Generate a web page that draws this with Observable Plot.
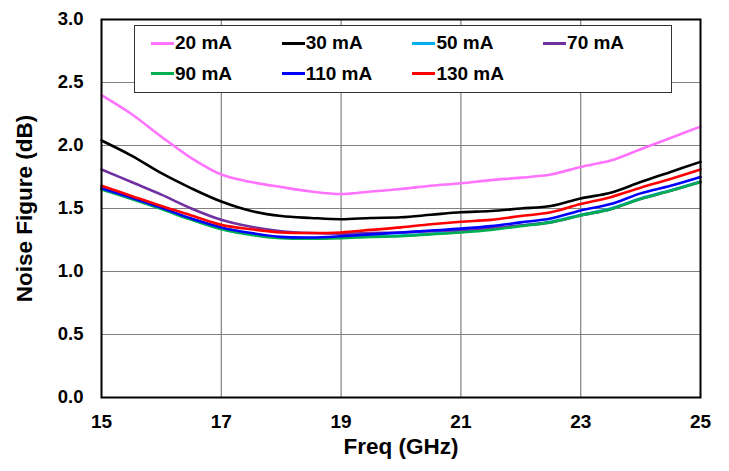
<!DOCTYPE html>
<html>
<head>
<meta charset="utf-8">
<script src="https://cdn.jsdelivr.net/npm/d3@7"></script>
<script src="https://cdn.jsdelivr.net/npm/@observablehq/plot@0.6"></script>
<style>
  body { margin: 0; background: #fff; }
  #wrap { position: relative; width: 729px; height: 471px; font-family: "Liberation Sans", Arial, sans-serif; }
  #legend {
    position: absolute; left: 134px; top: 25px; width: 520px; height: 64px;
    border: 1px solid #333; background: #fff; box-sizing: content-box;
    display: grid; grid-template-columns: repeat(4, 130.7px); grid-auto-rows: 30.5px;
    padding-top: 2px; padding-left: 16px;
    font-weight: bold; font-size: 19px; color: #000;
  }
  .item { display: flex; align-items: center; white-space: nowrap; }
  .sw { display: inline-block; width: 23px; height: 3px; margin-right: 1px; }
</style>
</head>
<body>
<div id="wrap"></div>
<script>
const freq = [15, 15.5, 16, 16.5, 17, 17.5, 18, 18.5, 19, 19.5, 20, 20.5, 21, 21.5, 22, 22.5, 23, 23.5, 24, 24.5, 25];

const nf20  = [2.40, 2.25, 2.07, 1.90, 1.77, 1.71, 1.67, 1.635, 1.615, 1.635, 1.655, 1.68, 1.70, 1.725, 1.745, 1.77, 1.83, 1.88, 1.97, 2.06, 2.15];
const nf30  = [2.04, 1.92, 1.78, 1.66, 1.555, 1.48, 1.44, 1.425, 1.415, 1.425, 1.43, 1.45, 1.47, 1.48, 1.50, 1.52, 1.58, 1.625, 1.71, 1.79, 1.87];
const nf50  = [1.655, 1.58, 1.50, 1.415, 1.34, 1.295, 1.27, 1.265, 1.27, 1.28, 1.285, 1.30, 1.315, 1.335, 1.365, 1.395, 1.45, 1.50, 1.58, 1.645, 1.715];
const nf70  = [1.81, 1.71, 1.61, 1.50, 1.41, 1.355, 1.32, 1.305, 1.30, 1.305, 1.31, 1.32, 1.33, 1.345, 1.365, 1.39, 1.445, 1.495, 1.575, 1.64, 1.71];
const nf90  = [1.65, 1.575, 1.495, 1.41, 1.335, 1.29, 1.265, 1.26, 1.265, 1.275, 1.28, 1.295, 1.31, 1.33, 1.36, 1.39, 1.445, 1.495, 1.575, 1.64, 1.71];
const nf110 = [1.66, 1.585, 1.505, 1.42, 1.35, 1.305, 1.275, 1.27, 1.28, 1.295, 1.31, 1.325, 1.34, 1.36, 1.39, 1.42, 1.485, 1.535, 1.62, 1.68, 1.75];
const nf130 = [1.68, 1.60, 1.52, 1.445, 1.37, 1.335, 1.31, 1.305, 1.31, 1.33, 1.35, 1.375, 1.395, 1.41, 1.44, 1.47, 1.535, 1.59, 1.665, 1.735, 1.81];

const seriesNames  = ["20 mA", "30 mA", "50 mA", "70 mA", "90 mA", "110 mA", "130 mA"];
const seriesValues = [nf20, nf30, nf50, nf70, nf90, nf110, nf130];
const seriesColors = ["#FF73FF", "#000000", "#00B0F0", "#7030A0", "#00B050", "#0000FF", "#FF0000"];

const xTicks = [15, 17, 19, 21, 23, 25];
const yTicks = [0, 0.5, 1.0, 1.5, 2.0, 2.5, 3.0];
const xGrid = [17, 19, 21, 23];
const yGrid = [0.5, 1.0, 1.5, 2.0, 2.5];

const rows = seriesNames.flatMap((name, i) =>
  freq.map((f, j) => ({ name, f, v: seriesValues[i][j] })));

const font = "'Liberation Sans', Arial, sans-serif";

const chart = Plot.plot({
  width: 729,
  height: 471,
  marginLeft: 101,
  marginRight: 29,
  marginTop: 19,
  marginBottom: 74,
  style: { fontFamily: font, background: "#fff" },
  x: { domain: [15, 25] },
  y: { domain: [0, 3] },
  color: { domain: seriesNames, range: seriesColors },
  marks: [
    Plot.gridX(xGrid, { stroke: "#808080", strokeOpacity: 1, strokeWidth: 1.2 }),
    Plot.gridY(yGrid, { stroke: "#808080", strokeOpacity: 1, strokeWidth: 1.2 }),
    Plot.line(rows, { x: "f", y: "v", z: "name", stroke: "name", strokeWidth: 2.6, curve: "catmull-rom" }),
    Plot.frame({ stroke: "#000", strokeWidth: 2 }),
    Plot.axisX(xTicks, { tickSize: 0, tickPadding: 17, fontSize: 19, fontWeight: "bold", label: null, tickFormat: d => String(d) }),
    Plot.axisY(yTicks, { tickSize: 0, tickPadding: 18, fontSize: 18.5, fontWeight: "bold", label: null, tickFormat: d => d.toFixed(1) }),
    Plot.text(["Freq (GHz)"], { frameAnchor: "bottom", lineAnchor: "middle", textAnchor: "middle", dy: 49, fontSize: 22.5, fontWeight: "bold", fill: "#000" }),
    Plot.text(["Noise Figure (dB)"], { frameAnchor: "left", lineAnchor: "middle", textAnchor: "middle", dx: -77, rotate: -90, fontSize: 22.5, fontWeight: "bold", fill: "#000" })
  ]
});

const wrap = document.getElementById("wrap");
wrap.appendChild(chart);

const legend = document.createElement("div");
legend.id = "legend";
seriesNames.forEach((name, i) => {
  const item = document.createElement("div");
  item.className = "item";
  const sw = document.createElement("span");
  sw.className = "sw";
  sw.style.background = seriesColors[i];
  item.appendChild(sw);
  item.appendChild(document.createTextNode(name));
  legend.appendChild(item);
});
wrap.appendChild(legend);
</script>
</body>
</html>
